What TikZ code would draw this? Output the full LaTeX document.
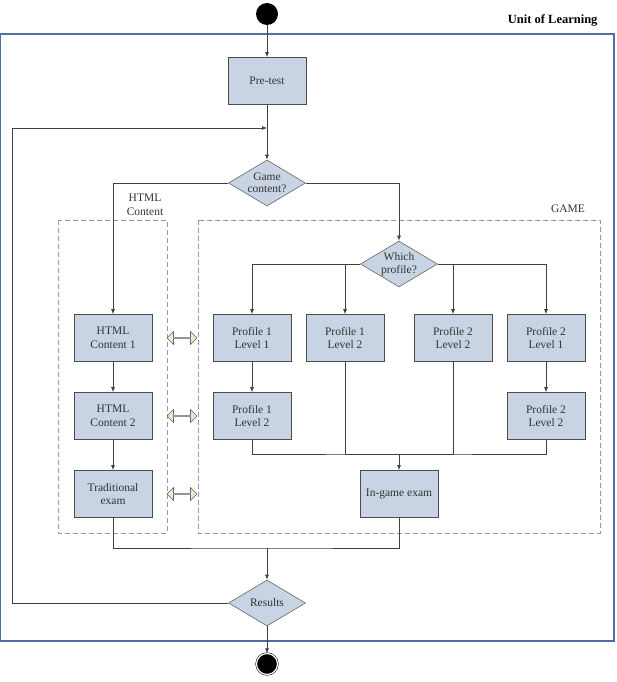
\documentclass[tikz,border=0pt]{standalone}
\usepackage{fontspec}
\setmainfont{Liberation Serif}
\usetikzlibrary{shapes.geometric,shapes.arrows,arrows.meta}
\definecolor{boxblue}{HTML}{C8D4E3}
\definecolor{framecol}{HTML}{4F6F9F}
\definecolor{dashcol}{HTML}{8A9AB8}
\definecolor{swapfill}{HTML}{E8E8CC}

\begin{document}
\begin{tikzpicture}[x=1pt, y=-1pt,
    actbox/.style={draw=black!70, line width=0.8pt, fill=boxblue, minimum width=78pt, minimum height=47pt, align=center, text=black!80, font=\fontsize{11.5}{13.5}\selectfont},
    choice/.style={diamond, aspect=1.67, draw=black!60, line width=0.6pt, fill=boxblue, minimum width=77pt, minimum height=46pt, inner sep=-3pt, align=center, text=black!80, font=\fontsize{11.5}{12.5}\selectfont},
    flow/.style={-{Latex[length=5pt,width=4pt]}, draw=black!75, line width=0.7pt},
    link/.style={draw=black!75, line width=0.7pt},
    swap/.style={double arrow, draw=black!60, line width=0.6pt, fill=swapfill, minimum height=30pt, minimum width=13pt, double arrow head extend=3pt, double arrow head indent=0pt, inner sep=0pt},
    group/.style={draw=dashcol, line width=0.9pt, dash pattern=on 5pt off 3pt},
    label/.style={align=center, text=black!80, font=\fontsize{11.5}{13.5}\selectfont}]
    \useasboundingbox (0,0) rectangle (616,682);

    % Frame
    \draw[framecol, line width=1.2pt] (0.6,34) rectangle (614,641);
    \node (unit) [anchor=east, font=\bfseries\fontsize{12.5}{14}\selectfont] at (601,20) {Unit of Learning};
    \draw[group] (58,220) rectangle (167,533);
    \draw[group] (198,220) rectangle (600,533);
    \node (htmllabel) [label] at (145,205) {HTML\\Content};
    \node (gamelabel) [label] at (568,209) {GAME};

    % Nodes
    \node (start) [circle, fill=black, minimum size=22pt, inner sep=0pt] at (267,14) {};
    \node (pretest) [actbox] at (267,81) {Pre-test};
    \node (gamechoice) [choice] at (267,183) {Game\\content?};
    \node (profilechoice) [choice] at (399,264) {Which\\profile?};

    \node (htmlone) [actbox] at (113,338) {HTML\\Content 1};
    \node (htmltwo) [actbox] at (113,416) {HTML\\Content 2};
    \node (tradexam) [actbox] at (113,494) {Traditional\\exam};

    \node (ponelone) [actbox] at (252,338) {Profile 1\\Level 1};
    \node (ponelfast) [actbox] at (345,338) {Profile 1\\Level 2};
    \node (ptwolfast) [actbox] at (453,338) {Profile 2\\Level 2};
    \node (ptwolone) [actbox] at (546,338) {Profile 2\\Level 1};
    \node (poneltwo) [actbox] at (252,416) {Profile 1\\Level 2};
    \node (ptwoltwo) [actbox] at (546,416) {Profile 2\\Level 2};
    \node (ingame) [actbox] at (399,494) {In-game exam};

    \node (results) [choice] at (267,603) {Results};
    \node (stop) [circle, fill=black, draw=black, line width=0.5pt, double=white, double distance=1.2pt, minimum size=21pt, inner sep=0pt] at (267,664) {};

    \node (swapone) [swap] at (182,338) {};
    \node (swaptwo) [swap] at (182,416) {};
    \node (swapthree) [swap] at (182,494) {};

    \coordinate (loopin) at (267,128);
    \coordinate (loopcorner) at (12,128);
    \coordinate (gamemerge) at (399,454);
    \coordinate (endmerge) at (267,548);

    % Arrows
    \draw[flow] (start) -- (pretest);
    \draw[flow] (pretest) -- (gamechoice);
    \draw[flow] (results.west) -| (loopcorner) -- (loopin);
    \draw[flow] (gamechoice.west) -| (htmlone.north);
    \draw[flow] (gamechoice.east) -| (profilechoice.north);
    \draw[flow] (profilechoice.west) -| (ponelone.north);
    \draw[flow] (profilechoice.west) -| (ponelfast.north);
    \draw[flow] (profilechoice.east) -| (ptwolfast.north);
    \draw[flow] (profilechoice.east) -| (ptwolone.north);
    \draw[flow] (htmlone) -- (htmltwo);
    \draw[flow] (htmltwo) -- (tradexam);
    \draw[flow] (ponelone) -- (poneltwo);
    \draw[flow] (ptwolone) -- (ptwoltwo);
    \draw[link] (poneltwo.south) |- (gamemerge) -| (ptwoltwo.south);
    \draw[link] (ponelfast.south) |- (gamemerge);
    \draw[link] (ptwolfast.south) |- (gamemerge);
    \draw[flow] (gamemerge) -- (ingame);
    \draw[link] (tradexam.south) |- (endmerge) -| (ingame.south);
    \draw[flow] (endmerge) -- (results);
    \draw[flow] (results) -- (stop);
\end{tikzpicture}
\end{document}
